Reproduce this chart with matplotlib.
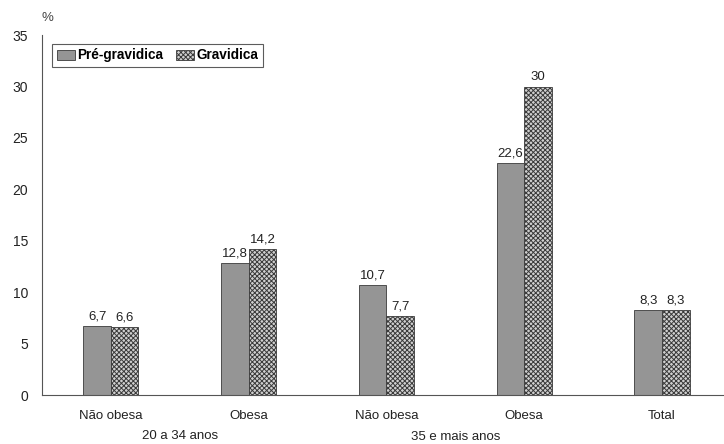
import numpy as np
import matplotlib.pyplot as plt
import matplotlib as mpl

plt.rcParams['font.family'] = ['Liberation Sans', 'DejaVu Sans']
mpl.rcParams['hatch.color'] = '#4a4a4a'
mpl.rcParams['hatch.linewidth'] = 0.7

categorias = ["Não obesa", "Obesa", "Não obesa", "Obesa", "Total"]
pre_gravidica = [6.7, 12.8, 10.7, 22.6, 8.3]
gravidica = [6.6, 14.2, 7.7, 30.0, 8.3]
grupos = ["20 a 34 anos", "35 e mais anos"]
rotulos_y = [0, 5, 10, 15, 20, 25, 30, 35]


def fmt(v):
    s = f"{v:.1f}".replace(".", ",")
    return s[:-2] if s.endswith(",0") else s


fig = plt.figure(figsize=(7.24, 4.44), dpi=100)
ax = fig.add_axes([0.058, 0.11, 0.942, 0.811])

x = np.arange(len(categorias))
w = 0.2
b1 = ax.bar(x - w / 2, pre_gravidica, w, color="#959595", edgecolor="#3a3a3a",
            linewidth=0.6, label="Pré-gravidica")
b2 = ax.bar(x + w / 2, gravidica, w, color="#d0d0d0", edgecolor="#3a3a3a",
            linewidth=0.6, hatch="xxxxxxx", label="Gravidica")

for rect, v in list(zip(b1, pre_gravidica)) + list(zip(b2, gravidica)):
    ax.text(rect.get_x() + rect.get_width() / 2, v + 0.35, fmt(v),
            ha="center", va="bottom", fontsize=9.5, color="#222222")

ax.set_xlim(-0.5, 4.45)
ax.set_ylim(0, 35)
ax.set_yticks(rotulos_y)
ax.set_yticklabels([str(t) for t in rotulos_y], fontsize=10, color="#222222")
ax.set_xticks(x)
ax.set_xticklabels(categorias, fontsize=9.5, color="#222222")
ax.tick_params(axis="x", length=0, pad=11)
ax.tick_params(axis="y", length=0, pad=10)

for s in ["top", "right"]:
    ax.spines[s].set_visible(False)
ax.spines["left"].set_color("#555555")
ax.spines["bottom"].set_color("#555555")

ax.text(-0.5, 36.7, "%", fontsize=9.5, color="#444444", ha="left",
        va="center", clip_on=False)
ax.text(0.5, -4.0, grupos[0], ha="center", va="center", fontsize=9.5, color="#222222")
ax.text(2.5, -4.1, grupos[1], ha="center", va="center", fontsize=9.5, color="#222222")

leg = ax.legend(loc="upper left", bbox_to_anchor=(0.005, 0.995), ncol=2,
                frameon=True, fancybox=False, handlelength=1.3, handleheight=0.8,
                handletextpad=0.15, columnspacing=1.0, borderpad=0.35,
                prop={"weight": "bold", "size": 9.8})
leg.get_frame().set_edgecolor("#333333")
leg.get_frame().set_linewidth(0.8)

fig.savefig("out.png", dpi=100)
